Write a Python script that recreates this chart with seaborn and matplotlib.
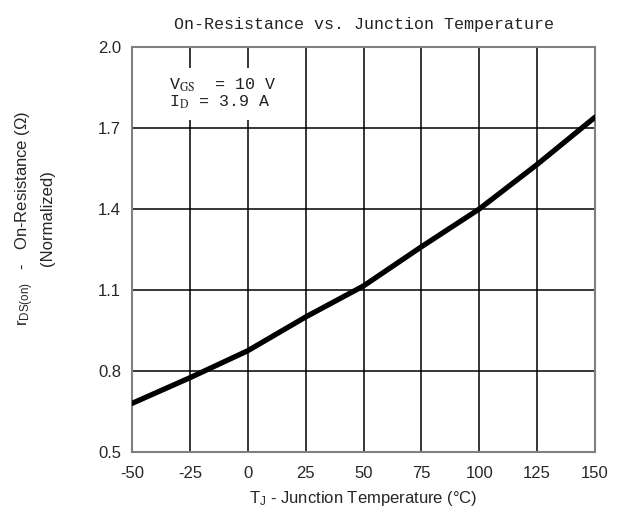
import matplotlib
matplotlib.use('Agg')
import matplotlib.pyplot as plt
import seaborn as sns
import pandas as pd

# 数据
temps = [-50, -25, 0, 25, 50, 75, 100, 125, 150]
r_norm = [0.68, 0.775, 0.875, 1.0, 1.115, 1.26, 1.40, 1.565, 1.74]
x_ticks = [-50, -25, 0, 25, 50, 75, 100, 125, 150]
y_ticks = [0.5, 0.8, 1.1, 1.4, 1.7, 2.0]

sns.set_style('white')
plt.rcParams['font.family'] = ['Liberation Sans', 'DejaVu Sans']
plt.rcParams['axes.unicode_minus'] = False
plt.rcParams['mathtext.fontset'] = 'custom'
plt.rcParams['mathtext.rm'] = 'Liberation Sans'
plt.rcParams['mathtext.it'] = 'Liberation Sans'

df = pd.DataFrame({'T': temps, 'R': r_norm})

fig = plt.figure(figsize=(6.21, 5.24), dpi=100)
ax = fig.add_axes([132 / 621, 1 - 452 / 524, (595 - 132) / 621, (452 - 47) / 524])

sns.lineplot(data=df, x='T', y='R', ax=ax, color='black', linewidth=3.8, zorder=3)

ax.set_xlim(-50, 150)
ax.set_ylim(0.5, 2.0)
ax.set_xticks(x_ticks)
ax.set_xticklabels([str(t) for t in x_ticks])
ax.set_yticks(y_ticks)
ax.set_yticklabels([f'{v:.1f}' for v in y_ticks])
ax.tick_params(length=0, labelsize=12)
ax.tick_params(axis='x', pad=10)
ax.tick_params(axis='y', pad=8)
ax.grid(True, color='black', linewidth=1.1)
ax.set_axisbelow(True)
for s in ax.spines.values():
    s.set_color('#808080')
    s.set_linewidth(1.5)

ax.set_title('On-Resistance vs. Junction Temperature', family='Liberation Mono',
             fontsize=12, color='#222222', pad=13)
ax.set_xlabel(r'T$_{\rm J}$ - Junction Temperature ($\degree$C)', fontsize=12, labelpad=6)
ax.set_ylabel('r$_{\\rm DS(on)}$   -   On-Resistance (Ω)\n(Normalized)', fontsize=12,
              linespacing=1.35)
ax.yaxis.set_label_coords(-0.166, 0.578)

ax.text(-34, 1.826, 'V$_{\\rm GS}$  = 10 V\nI$_{\\rm D}$ = 3.9 A', family='Liberation Mono',
        math_fontfamily='stix', fontsize=12, color='#222222', va='center', ha='left',
        linespacing=1.0, zorder=4,
        bbox=dict(boxstyle='square,pad=0.5', facecolor='white', edgecolor='none'))

plt.savefig('out.png', dpi=100)
